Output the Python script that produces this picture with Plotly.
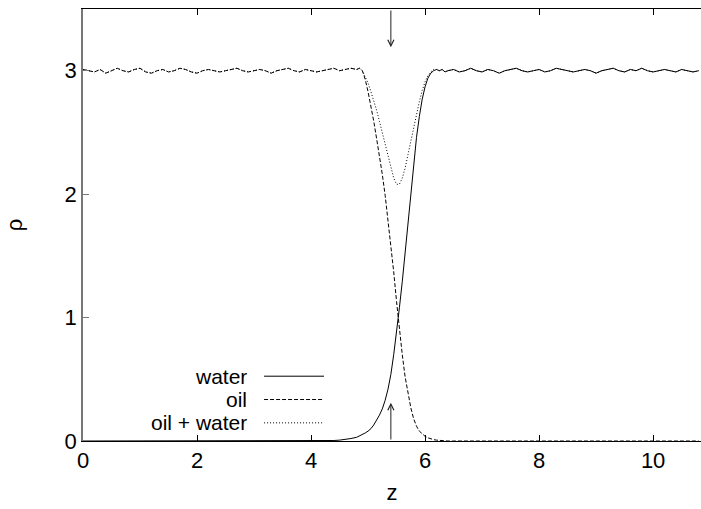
import plotly.graph_objects as go

# ---- data ----
z_left = [0.0, 0.1, 0.2, 0.3, 0.4, 0.5, 0.6, 0.7, 0.8, 0.9,
          1.0, 1.1, 1.2, 1.3, 1.4, 1.5, 1.6, 1.7, 1.8, 1.9,
          2.0, 2.1, 2.2, 2.3, 2.4, 2.5, 2.6, 2.7, 2.8, 2.9,
          3.0, 3.1, 3.2, 3.3, 3.4, 3.5, 3.6, 3.7, 3.8, 3.9,
          4.0, 4.1, 4.2, 4.3, 4.4, 4.5, 4.6, 4.7]
z_mid = [4.80, 4.85, 4.90, 4.95, 5.00, 5.05, 5.10, 5.15, 5.20, 5.25,
         5.30, 5.35, 5.40, 5.45, 5.50, 5.55, 5.60, 5.65, 5.70, 5.75,
         5.80, 5.85, 5.90, 5.95, 6.00, 6.05, 6.10, 6.15, 6.20, 6.25,
         6.30, 6.35, 6.40]
z_right = [6.5, 6.6, 6.7, 6.8, 6.9, 7.0, 7.1, 7.2, 7.3, 7.4,
           7.5, 7.6, 7.7, 7.8, 7.9, 8.0, 8.1, 8.2, 8.3, 8.4,
           8.5, 8.6, 8.7, 8.8, 8.9, 9.0, 9.1, 9.2, 9.3, 9.4,
           9.5, 9.6, 9.7, 9.8, 9.9, 10.0, 10.1, 10.2, 10.3, 10.4,
           10.5, 10.6, 10.7, 10.8]

plateau_left = [3.01, 3.00, 2.99, 3.01, 2.98, 3.00, 3.02, 3.00, 2.99, 3.01,
                3.02, 2.99, 2.98, 3.00, 3.01, 2.99, 3.00, 3.02, 3.01, 2.99,
                2.98, 3.00, 3.01, 3.00, 2.99, 3.00, 3.01, 3.02, 3.00, 2.99,
                3.00, 3.01, 3.00, 2.98, 3.00, 3.01, 3.02, 3.00, 2.99, 3.01,
                3.00, 2.99, 3.00, 3.01, 3.02, 3.00, 3.01, 3.02]
plateau_right = [3.01, 2.99, 3.00, 3.02, 3.00, 2.99, 3.01, 3.00, 2.98, 3.00,
                 3.01, 3.02, 3.00, 2.99, 3.00, 3.01, 2.99, 3.00, 3.02, 3.01,
                 3.00, 2.99, 3.00, 3.01, 3.00, 2.98, 3.00, 3.01, 3.02, 3.00,
                 2.99, 3.01, 3.00, 3.02, 3.00, 2.99, 3.00, 3.01, 3.00, 2.99,
                 3.01, 3.00, 2.99, 3.00]

water_left = [0.0] * 42 + [0.001, 0.002, 0.004, 0.007, 0.012, 0.02]
water_mid = [0.03, 0.04, 0.05, 0.065, 0.08, 0.10, 0.13, 0.165, 0.21, 0.26,
             0.33, 0.42, 0.54, 0.70, 0.88, 1.08, 1.29, 1.53, 1.78, 2.02,
             2.25, 2.46, 2.63, 2.77, 2.87, 2.94, 2.98, 3.00, 3.01, 3.00,
             3.01, 2.99, 3.00]

oil_mid = [3.01, 3.02, 3.00, 2.93, 2.83, 2.72, 2.59, 2.45, 2.31, 2.16,
           1.99, 1.80, 1.60, 1.37, 1.13, 0.90, 0.70, 0.52, 0.38, 0.27,
           0.18, 0.12, 0.08, 0.055, 0.038, 0.026, 0.017, 0.011, 0.007, 0.004,
           0.002, 0.001, 0.0]
oil_right = [0.0] * 44

total_mid = [3.01, 3.02, 3.00, 2.95, 2.90, 2.83, 2.76, 2.68, 2.59, 2.50,
             2.40, 2.31, 2.21, 2.13, 2.08, 2.08, 2.13, 2.21, 2.32, 2.43,
             2.54, 2.65, 2.75, 2.84, 2.91, 2.96, 2.99, 3.01, 3.01, 3.00,
             3.01, 2.99, 3.00]

interface_z = 5.4
x_ticks = [0, 2, 4, 6, 8, 10]
y_ticks = [0, 1, 2, 3]
series_names = ["water", "oil", "oil + water"]

# ---- assemble ----
z = z_left + z_mid + z_right
water = water_left + water_mid + plateau_right
oil = plateau_left + oil_mid + oil_right
total = plateau_left + total_mid + plateau_right

FONT = "Liberation Sans, Arial, Helvetica, sans-serif"
FS = 22
styles = [dict(color="black", width=1, dash="solid"),
          dict(color="black", width=1, dash="4px,2px"),
          dict(color="black", width=1, dash="1px,2px")]

fig = go.Figure()
for name, vals, st in zip(series_names, [water, oil, total], styles):
    fig.add_trace(go.Scatter(x=z, y=vals, mode="lines", name=name,
                             line=st, showlegend=False))

# gnuplot-style legend: text on the left, sample on the right
leg_y = [0.150, 0.096, 0.042]
for name, st, yy in zip(series_names, styles, leg_y):
    fig.add_annotation(x=0.267, y=yy, xref="paper", yref="paper", text=name,
                       showarrow=False, xanchor="right", yanchor="middle",
                       height=21, valign="middle", borderpad=0,
                       font=dict(family=FONT, size=21, color="black"))
    fig.add_shape(type="line", xref="paper", yref="paper",
                  x0=0.293, x1=0.390, y0=yy, y1=yy, line=st)

# arrows marking the interface
fig.add_annotation(x=interface_z, y=3.19, ax=interface_z, ay=3.5,
                   xref="x", yref="y", axref="x", ayref="y", text="",
                   showarrow=True, arrowhead=5, arrowsize=1.2, arrowwidth=1,
                   arrowcolor="#222222", standoff=0, startstandoff=0)
fig.add_annotation(x=interface_z, y=0.31, ax=interface_z, ay=0.0,
                   xref="x", yref="y", axref="x", ayref="y", text="",
                   showarrow=True, arrowhead=5, arrowsize=1.2, arrowwidth=1,
                   arrowcolor="#222222", standoff=0, startstandoff=0)

fig.update_layout(
    width=701, height=509,
    margin=dict(l=83, r=0, t=9, b=68),
    paper_bgcolor="white", plot_bgcolor="white",
    font=dict(family=FONT, size=FS, color="black"),
    xaxis=dict(range=[0, 10.84], tickvals=x_ticks, ticks="inside", ticklen=6,
               tickcolor="black", showline=True, linecolor="black", linewidth=1,
               mirror="ticks", showgrid=False, zeroline=False,
               title=dict(text="z", standoff=12, font=dict(size=FS)),
               tickfont=dict(family=FONT, size=FS)),
    yaxis=dict(range=[0, 3.5], tickvals=y_ticks, ticks="inside", ticklen=6,
               tickcolor="#777777", showline=True, linecolor="#777777",
               linewidth=1.5, mirror=False, showgrid=False, zeroline=False,
               title=dict(text="ρ", standoff=36, font=dict(size=FS)),
               tickfont=dict(family=FONT, size=FS)),
)

fig.write_html("out.html")
